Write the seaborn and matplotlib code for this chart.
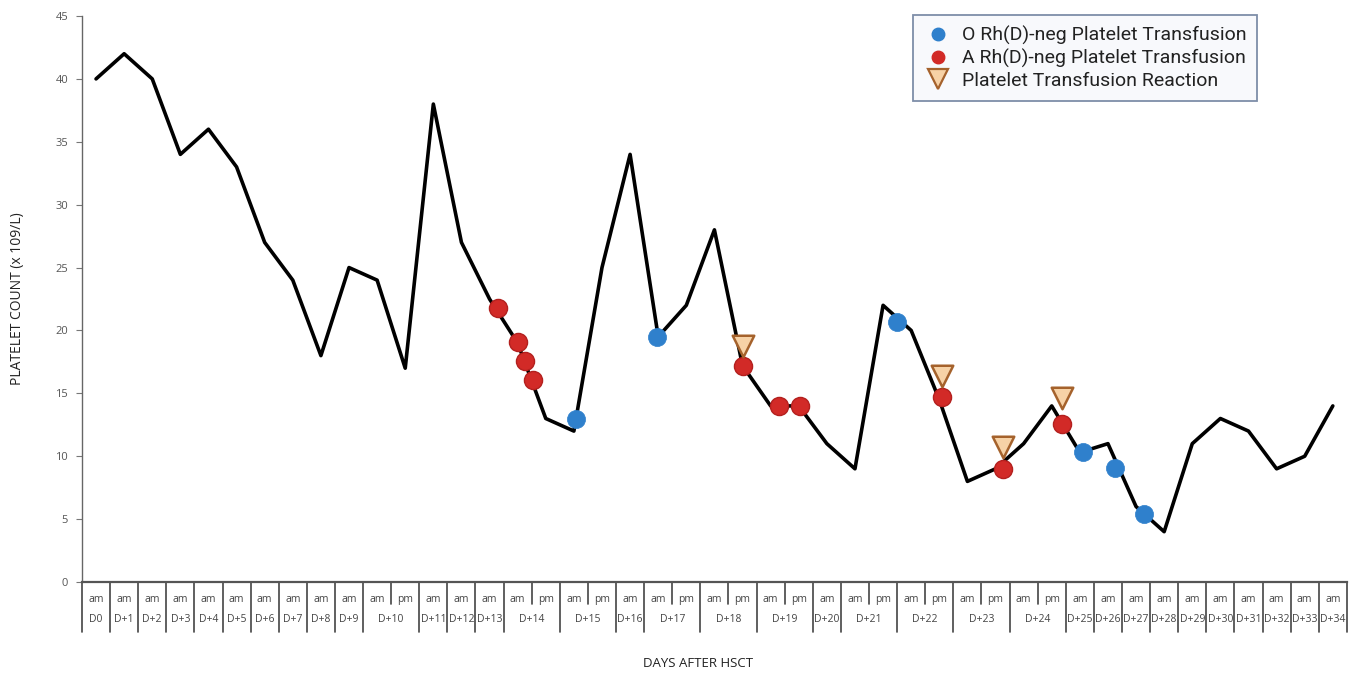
import matplotlib
matplotlib.use("Agg")
import matplotlib.pyplot as plt
from matplotlib.lines import Line2D
import seaborn as sns
import pandas as pd
import numpy as np

# Day labels and how many readings (am / am+pm) each day has
days = ["D0", "D+1", "D+2", "D+3", "D+4", "D+5", "D+6", "D+7", "D+8", "D+9",
        "D+10", "D+11", "D+12", "D+13", "D+14", "D+15", "D+16", "D+17", "D+18",
        "D+19", "D+20", "D+21", "D+22", "D+23", "D+24", "D+25", "D+26", "D+27",
        "D+28", "D+29", "D+30", "D+31", "D+32", "D+33", "D+34"]
readings_per_day = [1, 1, 1, 1, 1, 1, 1, 1, 1, 1,
                    2, 1, 1, 1, 2, 2, 1, 2, 2,
                    2, 1, 2, 2, 2, 2, 1, 1, 1,
                    1, 1, 1, 1, 1, 1, 1]

# Platelet count per reading (x 10^9/L)
platelets = [40, 42, 40, 34, 36, 33, 27, 24, 18, 25,
             24, 17, 38, 27, 22.5, 19, 13, 12, 25, 34,
             19.5, 22, 28, 17.2, 14, 14, 11, 9, 22, 20,
             14.5, 8, 9, 11, 14, 10.3, 11, 6, 4, 11,
             13, 12, 9, 10, 14]

# Transfusion events (position in reading index units, count)
o_neg_x = [17.08, 19.95, 28.5, 35.1, 36.25, 37.3]
o_neg_y = [13.0, 19.5, 20.7, 10.3, 9.1, 5.4]
a_neg_x = [14.3, 15.0, 15.26, 15.55, 23.02, 24.3, 25.05, 30.1, 32.27, 34.36]
a_neg_y = [21.8, 19.1, 17.6, 16.1, 17.2, 14.0, 14.0, 14.7, 9.0, 12.6]
reaction_x = [23.02, 30.1, 32.27, 34.36]
reaction_y = [18.8, 16.4, 10.7, 14.6]

yticks = list(range(0, 46, 5))

slot_labels = []
for n in readings_per_day:
    slot_labels += ["am", "pm"][:n]
n_slots = len(slot_labels)

sns.set_style("white")
plt.rcParams["font.family"] = ["Open Sans", "DejaVu Sans"]

fig = plt.figure(figsize=(13.55, 6.73), dpi=100)
ax = fig.add_axes([0.0605, 0.1352, 0.9335, 0.841])

df = pd.DataFrame({"slot": np.arange(n_slots), "count": platelets})
sns.lineplot(data=df, x="slot", y="count", ax=ax, color="black",
             linewidth=2.6, zorder=2)

blue = "#2f80cc"
red = "#d22a27"
sns.scatterplot(x=o_neg_x, y=o_neg_y, ax=ax, color=blue, s=170,
                edgecolor=blue, linewidth=0.5, zorder=4)
sns.scatterplot(x=a_neg_x, y=a_neg_y, ax=ax, color=red, s=170,
                edgecolor="#b3201e", linewidth=1.0, zorder=4)
sns.scatterplot(x=reaction_x, y=reaction_y, ax=ax, marker="v",
                color="#f7d2a6", s=240, edgecolor="#a5622c",
                linewidth=1.8, zorder=5)

ax.set_xlim(-0.5, n_slots - 0.5)
ax.set_ylim(0, 45)
ax.set_yticks(yticks)
ax.set_yticklabels([str(v) for v in yticks], fontsize=8, color="#555555")
ax.tick_params(axis="y", length=4, width=0.8, color="#777777", pad=6, left=True)
ax.set_xticks([])
ax.set_xlabel("")
ax.set_ylabel("PLATELET COUNT (x 109/L)", fontsize=10, color="#222222",
              labelpad=22)

for side in ["top", "right"]:
    ax.spines[side].set_visible(False)
ax.spines["left"].set_color("#666666")
ax.spines["left"].set_linewidth(1.0)
ax.spines["bottom"].set_color("#555555")
ax.spines["bottom"].set_linewidth(1.6)

# Two-row category table under the x axis
trans = ax.get_xaxis_transform()
row1 = -0.044
row2 = -0.088
line_kw = dict(transform=trans, clip_on=False, color="#444444", linewidth=1.2)

start = 0
day_edges = [start - 0.5]
for n in readings_per_day:
    start += n
    day_edges.append(start - 0.5)
for e in day_edges:
    ax.plot([e, e], [0, row2], **line_kw)

pos = 0
for day, n in zip(days, readings_per_day):
    if n == 2:
        mid = pos + 0.5
        ax.plot([mid, mid], [0, row1 + 0.005], **line_kw)
    center = pos + (n - 1) / 2
    ax.text(center, -0.067, day, transform=trans, ha="center", va="center",
            fontsize=7.5, color="#444444", clip_on=False)
    pos += n

for i, lab in enumerate(slot_labels):
    ax.text(i, -0.031, lab, transform=trans, ha="center", va="center",
            fontsize=7.5, color="#444444", clip_on=False)

fig.text(0.5155, 0.004, "DAYS AFTER HSCT", ha="center", va="bottom",
         fontsize=9.5, color="#222222")

handles = [
    Line2D([], [], linestyle="none", marker="o", markersize=9,
           markerfacecolor=blue, markeredgecolor=blue),
    Line2D([], [], linestyle="none", marker="o", markersize=9,
           markerfacecolor=red, markeredgecolor=red),
    Line2D([], [], linestyle="none", marker="v", markersize=15,
           markerfacecolor="#f7d2a6", markeredgecolor="#a5622c",
           markeredgewidth=1.6),
]
labels = ["O Rh(D)-neg Platelet Transfusion",
          "A Rh(D)-neg Platelet Transfusion",
          "Platelet Transfusion Reaction"]
leg = fig.legend(handles, labels, loc="upper left",
                 bbox_to_anchor=(913 / 1355, 1 - 15 / 673),
                 prop={"family": ["Roboto", "DejaVu Sans"], "size": 14},
                 frameon=True, fancybox=False, handletextpad=0.45,
                 labelspacing=0.2, borderpad=0.55, handlelength=1.5,
                 borderaxespad=0)
frame = leg.get_frame()
frame.set_edgecolor("#7e8ea8")
frame.set_linewidth(1.3)
frame.set_facecolor("#f8f9fc")
frame.set_alpha(1)
for t in leg.get_texts():
    t.set_color("#222222")

fig.savefig("out.png", dpi=100)
